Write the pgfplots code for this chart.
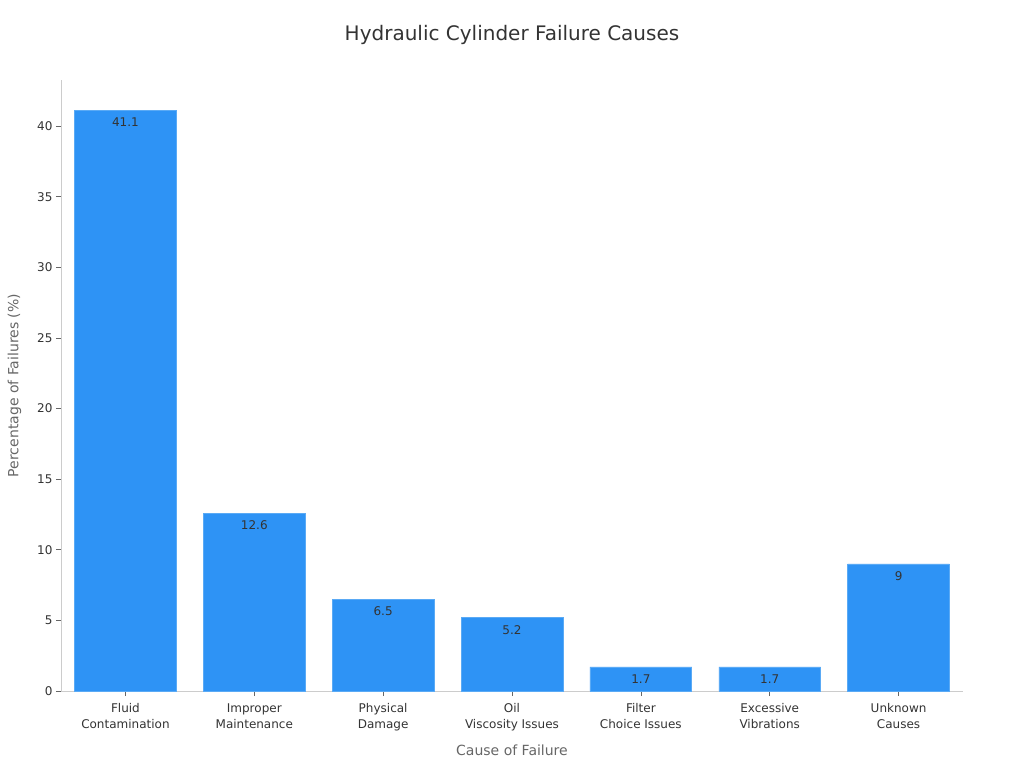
\documentclass[border=0pt]{standalone}
\usepackage{pgfplots}
\pgfplotsset{compat=1.18}
\usepackage{fontspec}
\setmainfont{DejaVu Sans}
\definecolor{barblue}{HTML}{2E93F5}
\definecolor{baredge}{HTML}{5AAAF5}
\definecolor{axgrey}{HTML}{CCCCCC}
\definecolor{txt}{HTML}{333333}
\definecolor{lbl}{HTML}{666666}
\begin{document}
\begin{tikzpicture}
\begin{axis}[
  name=ax,
  scale only axis,
  width=902pt, height=611pt,
  xmin=-0.5, xmax=6.5,
  ymin=0, ymax=43.26,
  axis x line*=bottom, axis y line*=left,
  axis line style={draw=axgrey, line width=0.8pt},
  ybar, bar width=0.79,
  xtick={0,1,2,3,4,5,6},
  xticklabels={{Fluid\\Contamination},{Improper\\Maintenance},{Physical\\Damage},{Oil\\Viscosity Issues},{Filter\\Choice Issues},{Excessive\\Vibrations},{Unknown\\Causes}},
  xticklabel style={align=center, font=\fontsize{12}{16}\selectfont, text=txt, yshift=-4pt},
  ytick={0,5,...,40},
  yticklabel style={font=\fontsize{12}{14}\selectfont, text=txt},
  /pgf/number format/assume math mode=true,
  tick style={draw=lbl, line width=0.6pt},
  major tick length=5pt,
  tick align=outside,
  xlabel={Cause of Failure},
  ylabel={Percentage of Failures (\%)},
  xlabel style={font=\fontsize{14}{16}\selectfont, text=lbl, yshift=-7pt},
  ylabel style={font=\fontsize{14}{16}\selectfont, text=lbl, yshift=9pt},
  title={Hydraulic Cylinder Failure Causes},
  title style={font=\fontsize{20}{24}\selectfont, text=txt, yshift=26pt},
  nodes near coords,
  every node near coord/.append style={anchor=north, font=\fontsize{12}{14}\selectfont, text=txt, yshift=-4pt},
  point meta=explicit symbolic,
]
\addplot[fill=barblue, draw=baredge, line width=0.6pt] coordinates {
  (0,41.1) [41.1]
  (1,12.6) [12.6]
  (2,6.5) [6.5]
  (3,5.2) [5.2]
  (4,1.7) [1.7]
  (5,1.7) [1.7]
  (6,9) [9]
};
\end{axis}
\path[use as bounding box] ([xshift=-61pt,yshift=-77pt]ax.south west) rectangle ([xshift=61pt,yshift=80pt]ax.north east);
\end{tikzpicture}
\end{document}
